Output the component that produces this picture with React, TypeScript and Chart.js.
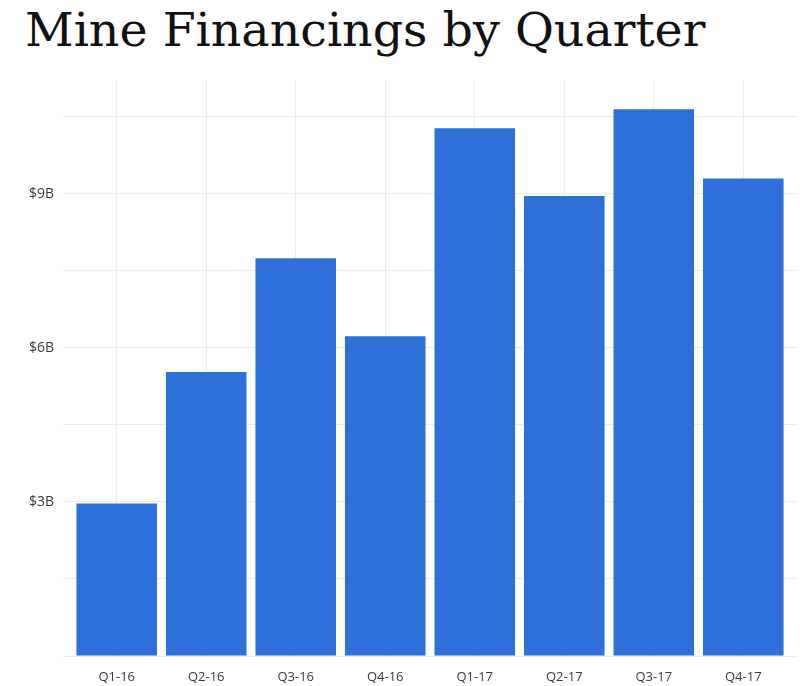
import React, { useEffect, useRef } from "react";
import { Chart, registerables } from "chart.js";

Chart.register(...registerables);

const categories = ["Q1-16", "Q2-16", "Q3-16", "Q4-16", "Q1-17", "Q2-17", "Q3-17", "Q4-17"];
const financingsB = [2.97, 5.53, 7.75, 6.23, 10.28, 8.96, 10.65, 9.3];
const yGridValues = [0, 1.5, 3, 4.5, 6, 7.5, 9, 10.5];
const yLabelValues = [3, 6, 9];

export default function App() {
  const ref = useRef<HTMLCanvasElement | null>(null);

  useEffect(() => {
    if (!ref.current) return;
    const chart = new Chart(ref.current, {
      type: "bar",
      data: {
        datasets: [
          {
            data: financingsB.map((v, i) => ({ x: i, y: v })),
            backgroundColor: "#2d70d9",
            borderWidth: 0,
            barPercentage: 0.9,
            categoryPercentage: 1,
          },
        ],
      },
      options: {
        animation: false,
        responsive: false,
        layout: { padding: { top: 80, right: 3, left: 0, bottom: 0 } },
        plugins: { legend: { display: false }, tooltip: { enabled: false }, title: { display: false } },
        scales: {
          x: {
            type: "linear",
            offset: false,
            min: -0.6,
            max: categories.length - 0.4,
            afterBuildTicks: (scale: any) => {
              scale.ticks = categories.map((_, i) => ({ value: i }));
            },
            afterFit: (scale: any) => {
              scale.height = 30;
            },
            border: { display: false },
            grid: { color: "#ececec", lineWidth: 1, drawTicks: false, offset: false },
            ticks: {
              padding: 13,
              color: "#3a3a3a",
              font: { family: "'Open Sans'", size: 13 },
              callback: (v: any) => categories[Math.round(Number(v))] ?? "",
              autoSkip: false,
              maxRotation: 0,
            },
          },
          y: {
            min: 0,
            max: 11.22,
            afterBuildTicks: (scale: any) => {
              scale.ticks = yGridValues.map((v) => ({ value: v }));
            },
            afterFit: (scale: any) => {
              scale.width = 63;
            },
            border: { display: false },
            grid: { color: "#ececec", lineWidth: 1, drawTicks: false },
            ticks: {
              padding: 9,
              color: "#3a3a3a",
              font: { family: "'Open Sans'", size: 14 },
              callback: (v: any) => (yLabelValues.includes(Number(v)) ? `$${v}B` : ""),
            },
          },
        },
      },
    });
    return () => chart.destroy();
  }, []);

  return (
    <div style={{ position: "absolute", left: 0, top: 0, width: 800, height: 686, background: "#fff" }}>
      <div
        style={{
          position: "absolute",
          left: 25,
          top: -1,
          fontFamily: "'DejaVu Serif', serif",
          fontSize: 47.5,
          lineHeight: "62px",
          color: "#111",
          whiteSpace: "nowrap",
        }}
      >
        Mine Financings by Quarter
      </div>
      <canvas ref={ref} width={800} height={686} style={{ position: "absolute", left: 0, top: 0 }} />
    </div>
  );
}
